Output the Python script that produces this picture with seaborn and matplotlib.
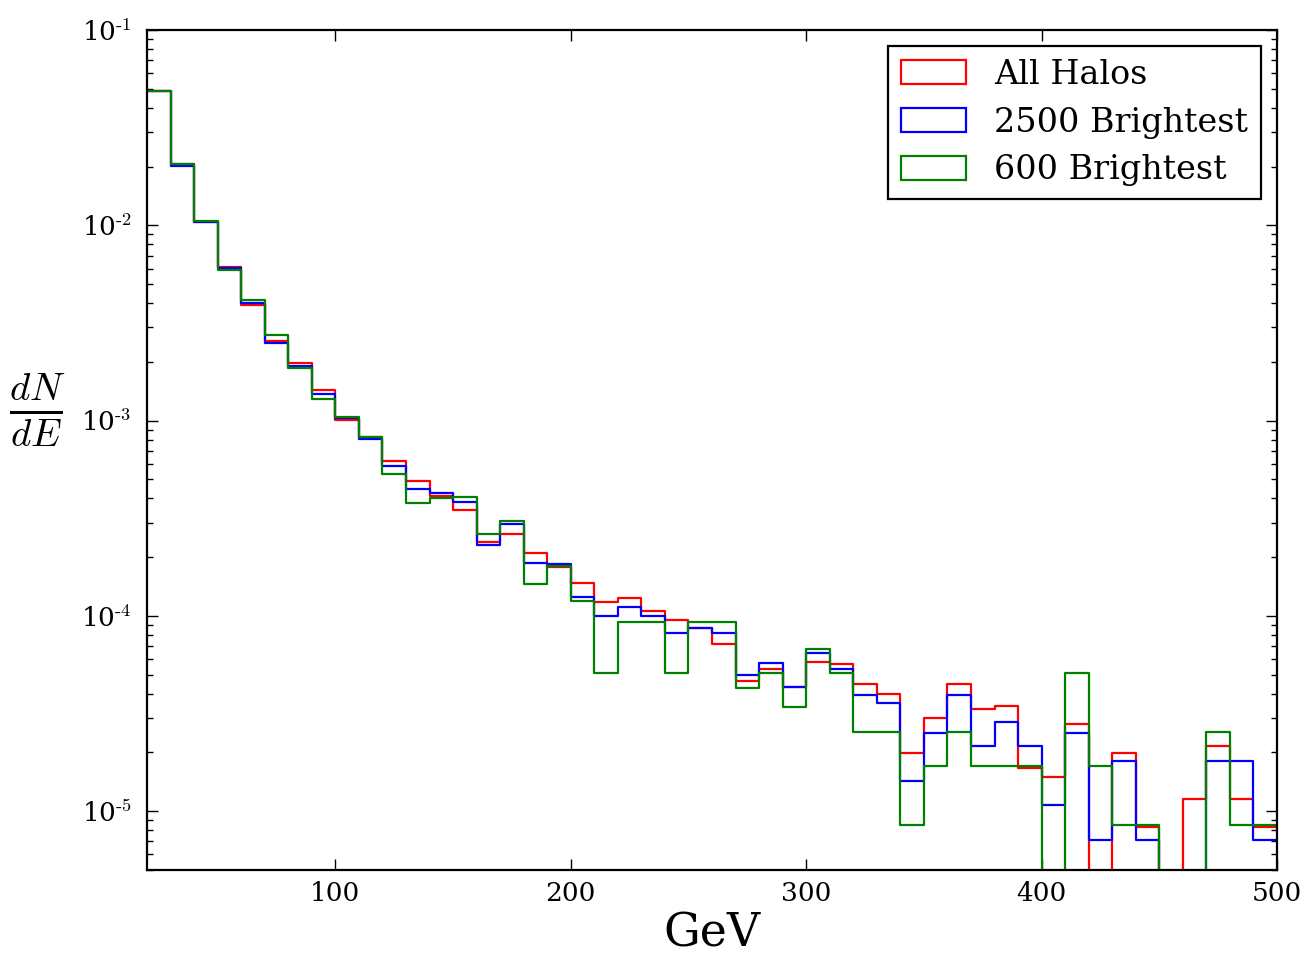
import numpy as np
import pandas as pd
import matplotlib
matplotlib.use("Agg")
import matplotlib.pyplot as plt
import seaborn as sns
from matplotlib.patches import Patch
from matplotlib.ticker import LogLocator, FixedLocator, NullLocator, FuncFormatter

# ---- data ----
bin_edges = list(range(20, 510, 10))
series_names = ["All Halos", "2500 Brightest", "600 Brightest"]
series_colors = ["red", "blue", "green"]

all_halos = [0.049, 0.0206, 0.0104, 0.00614, 0.00391, 0.00256, 0.00198, 0.00143,
             0.00101, 0.000826, 0.000622, 0.000492, 0.000412, 0.000348, 0.000239, 0.000264,
             0.000211, 0.000177, 0.000147, 0.000118, 0.000124, 0.000106, 9.5e-5, 8.62e-5,
             7.16e-5, 4.65e-5, 5.32e-5, 4.3e-5, 5.82e-5, 5.66e-5, 4.47e-5, 3.97e-5,
             1.99e-5, 2.99e-5, 4.47e-5, 3.33e-5, 3.47e-5, 1.66e-5, 1.49e-5, 2.81e-5,
             0.0, 1.99e-5, 8.3e-6, 0.0, 1.16e-5, 2.15e-5, 1.16e-5, 8.3e-6]
brightest_2500 = [0.049, 0.0202, 0.0104, 0.00602, 0.00401, 0.00251, 0.0019, 0.00137,
                  0.00103, 0.000804, 0.000585, 0.000444, 0.000424, 0.000382, 0.000232, 0.000297,
                  0.000187, 0.000184, 0.000125, 0.0001, 0.000111, 0.0001, 8.22e-5, 8.62e-5,
                  8.22e-5, 5.0e-5, 5.75e-5, 4.3e-5, 6.47e-5, 5.36e-5, 3.92e-5, 3.56e-5,
                  1.43e-5, 2.5e-5, 3.92e-5, 2.15e-5, 2.85e-5, 2.15e-5, 1.07e-5, 2.5e-5,
                  7.1e-6, 1.8e-5, 7.1e-6, 0.0, 0.0, 1.8e-5, 1.8e-5, 7.1e-6]
brightest_600 = [0.049, 0.0206, 0.0105, 0.0059, 0.00414, 0.00274, 0.00186, 0.00129,
                 0.00104, 0.00082, 0.000532, 0.000377, 0.000401, 0.000407, 0.000264, 0.000307,
                 0.000146, 0.00018, 0.000119, 5.07e-5, 9.33e-5, 9.33e-5, 5.07e-5, 9.33e-5,
                 9.33e-5, 4.25e-5, 5.07e-5, 3.4e-5, 6.76e-5, 5.07e-5, 2.54e-5, 2.54e-5,
                 8.5e-6, 1.7e-5, 2.54e-5, 1.7e-5, 1.7e-5, 1.7e-5, 0.0, 5.07e-5,
                 1.7e-5, 8.5e-6, 8.5e-6, 0.0, 0.0, 2.54e-5, 8.5e-6, 8.5e-6]

x_ticks = [100, 200, 300, 400, 500]

# ---- style ----
plt.rcParams["font.family"] = ["DejaVu Serif"]
plt.rcParams["mathtext.fontset"] = "cm"
plt.rcParams["axes.linewidth"] = 1.6
plt.rcParams["xtick.direction"] = "in"
plt.rcParams["ytick.direction"] = "in"

edges = np.array(bin_edges, dtype=float)
centers = (edges[:-1] + edges[1:]) / 2
frames = []
for name, vals in zip(series_names, [all_halos, brightest_2500, brightest_600]):
    frames.append(pd.DataFrame({"E": centers, "dNdE": vals, "series": name}))
df = pd.concat(frames, ignore_index=True)

fig = plt.figure(figsize=(13.15, 9.56), dpi=100)
ax = fig.add_axes([0.1118, 0.0900, 0.8593, 0.8786])

binw = bin_edges[1] - bin_edges[0]
for name, color in zip(series_names, series_colors):
    sub = df[df["series"] == name]
    sns.histplot(data=sub, x="E", weights="dNdE", binwidth=binw,
                 binrange=(bin_edges[0], bin_edges[-1]), element="step",
                 fill=False, color=color, linewidth=1.6, ax=ax)

ax.set_yscale("log")
ax.set_xlim(20, 500)
ax.set_ylim(5e-6, 1e-1)

ax.xaxis.set_major_locator(FixedLocator(x_ticks))
ax.xaxis.set_minor_locator(NullLocator())
ax.yaxis.set_major_locator(LogLocator(base=10, numticks=20))
ax.yaxis.set_minor_locator(LogLocator(base=10, subs=np.arange(2, 10), numticks=20))


def log_label(v, pos):
    e = int(round(np.log10(v)))
    return r"$\mathdefault{10^{\text{%d}}}$" % e


ax.yaxis.set_major_formatter(FuncFormatter(log_label))

ax.tick_params(axis="both", which="both", direction="in", top=True, right=True)
ax.tick_params(axis="both", which="major", length=8, width=1.0, labelsize=19)
ax.tick_params(axis="both", which="minor", length=4, width=1.0)
ax.tick_params(axis="x", which="major", pad=8)
ax.tick_params(axis="y", which="major", pad=11)

ax.set_xlabel("GeV", fontsize=33, labelpad=4)
ax.set_ylabel(r"$\frac{dN}{dE}$", fontsize=40, rotation=0, ha="center", va="center")
ax.yaxis.set_label_coords(-0.097, 0.548)

handles = [Patch(facecolor="none", edgecolor=c, linewidth=1.6) for c in series_colors]
leg = ax.legend(handles, series_names, loc="upper right", fontsize=24, frameon=True,
                fancybox=False, framealpha=1, edgecolor="black", handlelength=1.95,
                handleheight=0.72, borderaxespad=0.48, labelspacing=0.47,
                handletextpad=0.84, borderpad=0.39)
leg.get_frame().set_linewidth(1.6)

fig.savefig("out.png", dpi=100, facecolor="white")
